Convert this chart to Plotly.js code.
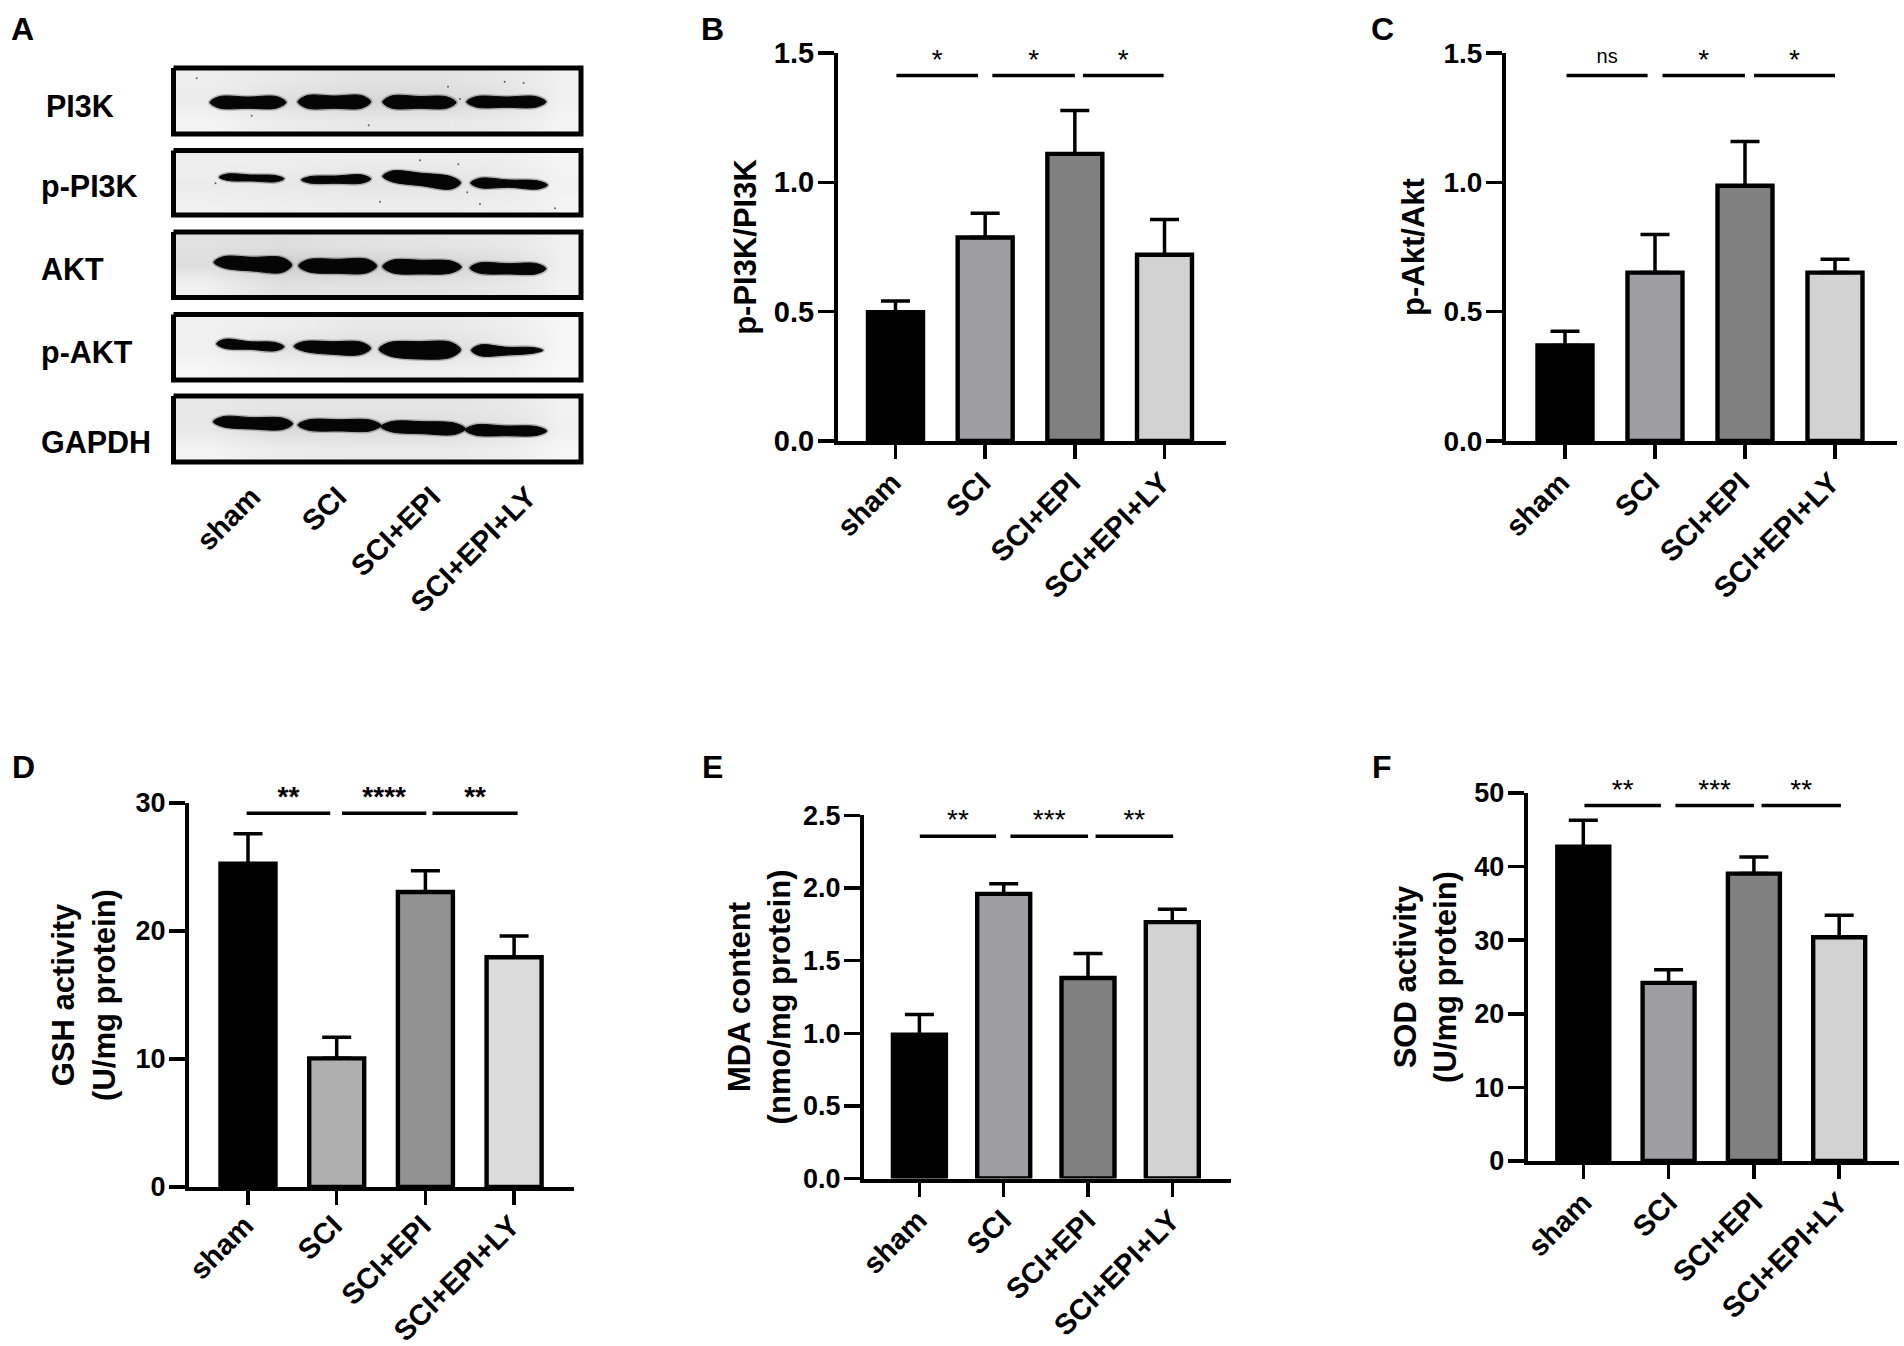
<!DOCTYPE html>
<html>
<head>
<meta charset="utf-8">
<script src="https://cdn.plot.ly/plotly-3.0.1.min.js"></script>
<style>body{margin:0;background:#fff}</style>
</head>
<body>
<div id="fig" style="width:1904px;height:1346px"></div>
<script>
var groups = ["sham", "SCI", "SCI+EPI", "SCI+EPI+LY"];
var groupIdx = [0, 1, 2, 3];

// bar heights and top of the error bars
var bMeans = [0.498, 0.787, 1.11, 0.72];
var bTops = [0.541, 0.88, 1.278, 0.856];
var cMeans = [0.369, 0.651, 0.987, 0.651];
var cTops = [0.424, 0.798, 1.158, 0.703];
var dMeans = [25.25, 10.05, 23.05, 17.95];
var dTops = [27.6, 11.7, 24.7, 19.6];
var eMeans = [0.99, 1.96, 1.38, 1.765];
var eTops = [1.13, 2.03, 1.55, 1.853];
var fMeans = [42.7, 24.2, 39.05, 30.4];
var fTops = [46.3, 26.0, 41.3, 33.4];

var greysDark = ["#000000", "#9e9ea2", "#808080", "#d2d2d2"];
var greysLight = ["#000000", "#aeaeae", "#929292", "#dcdcdc"];

// significance brackets: [start, end] in group units
var bSig = [[0.01, 0.92], [1.08, 2.0], [2.09, 2.99]];
var cSig = [[0.017, 0.918], [1.083, 2.0], [2.10, 3.0]];
var dSig = [[-0.015, 0.927], [1.06, 2.01], [2.08, 3.04]];
var eSig = [[0.005, 0.91], [1.08, 2.0], [2.09, 3.01]];
var fSig = [[0.013, 0.91], [1.08, 2.0], [2.09, 3.02]];

// blot panel
var rowNames = ["PI3K", "p-PI3K", "AKT", "p-AKT", "GAPDH"];
var rowNameX = [44, 39, 39, 39, 39];
var rowNameY = [105.7, 187, 269.5, 353, 442];
var frameTop = [68, 150.5, 232, 314.5, 396];
var frameBottom = [134, 215, 297.5, 380, 462];
var laneTicks = [252, 338, 432, 528];
var backX = [175, 240, 320, 400, 480, 540, 580];
var backZ = [
  [[238, 232, 226, 226, 232, 240], [235, 222, 214, 214, 224, 240], [244, 236, 232, 232, 236, 244]],
  [[238, 238, 235, 235, 238, 244], [236, 232, 228, 228, 232, 242], [240, 238, 236, 236, 238, 244]],
  [[225, 222, 226, 228, 232, 240], [222, 205, 208, 210, 220, 240], [240, 225, 226, 228, 232, 242]],
  [[240, 238, 232, 232, 238, 246], [240, 226, 222, 222, 232, 246], [246, 240, 238, 238, 240, 248]],
  [[232, 228, 228, 228, 232, 242], [232, 218, 218, 218, 226, 240], [244, 236, 234, 234, 238, 246]]
];
// per row, per lane: left/right end, and top/bottom edge near left, middle, right
var bandLeft = [
  [210, 298, 382.7, 466.6], [219.3, 301.4, 382.7, 470.7], [214, 298.7, 382.7, 470],
  [216.6, 294, 379, 471.4], [213.3, 298, 381, 465.3]
];
var bandRight = [
  [286, 370.7, 456, 546], [284, 370.7, 460.7, 547.5], [291.7, 376.7, 461.3, 546],
  [284, 370.7, 460.7, 543], [292.7, 381, 465.3, 546.8]
];
var bandTop = [
  [[96.7, 97, 96.7], [95.7, 96, 95.7], [96, 96.5, 97], [96.7, 97, 96.7]],
  [[174, 175, 175.7], [176.7, 176, 175], [171, 173.3, 176.7], [178.3, 180, 181]],
  [[256.7, 257.3, 257.7], [259.7, 259.3, 259.3], [260.3, 260.3, 261.3], [263, 263.7, 263.7]],
  [[339.3, 341.7, 342.7], [341.7, 341.7, 342.3], [342.7, 341.7, 342.3], [345, 347.3, 347.7]],
  [[416.7, 417.7, 418.3], [420, 419.7, 420.3], [421.7, 421.7, 423.3], [425, 426, 426.7]]
];
var bandBottom = [
  [[108, 108.3, 108], [108, 108.3, 108], [108, 108.3, 108], [107, 107.3, 107]],
  [[180.3, 181, 181.7], [183, 183.3, 183], [181.7, 185.7, 189], [187.7, 187.3, 189]],
  [[267.7, 271, 272.3], [271.7, 273.3, 272.7], [272.7, 274, 272.7], [273, 274, 273.7]],
  [[348.3, 349.3, 350.7], [351, 354.3, 354.3], [355.7, 359, 357.3], [355.7, 355, 353]],
  [[426.7, 429, 429.3], [430, 431, 430.7], [431.7, 433.7, 434.3], [435, 435.7, 435.3]]
];
var speckX = [251.7, 448, 504.7, 523.7, 460, 196.7, 368.7, 420, 215.5, 467.3, 380, 480, 458.3, 555];
var speckY = [115.7, 86.7, 81.7, 83, 99, 78.3, 125.3, 160.3, 183.3, 192.3, 201.7, 204, 164.3, 208.3];

var FONT = "Liberation Sans, Arial, sans-serif";
var W = 1904, H = 1346;
function xDom(a, b) { return [a / W, b / W]; }
function yDom(top, bottom) { return [1 - bottom / H, 1 - top / H]; }

var panels = [
  { means: bMeans, tops: bTops, sig: bSig, colors: greysDark, labels: ["*", "*", "*"], sigY: 1.413, yMax: 1.5, dtick: 0.5, fmt: ".1f", starWeight: "normal",
    title: "p-PI3K/PI3K", axisX: 838, endX: 1226, top: 53, bottom: 441, c0: 895.5, sp: 89.67, barW: 55, tickSize: 29, titleOff: 9, xLift: -5, xShift: -3 },
  { means: cMeans, tops: cTops, sig: cSig, colors: greysDark, labels: ["ns", "*", "*"], sigY: 1.413, yMax: 1.5, dtick: 0.5, fmt: ".1f", starWeight: "normal",
    title: "p-Akt/Akt", axisX: 1506, endX: 1897, top: 53, bottom: 441, c0: 1565, sp: 90, barW: 55, tickSize: 28, titleOff: 11, xLift: -5, xShift: -4 },
  { means: dMeans, tops: dTops, sig: dSig, colors: greysLight, labels: ["**", "****", "**"], sigY: 29.2, yMax: 30, dtick: 10, fmt: "d", starWeight: "bold",
    title: "GSH activity<br>(U/mg protein)", axisX: 189, endX: 574, top: 803, bottom: 1187, c0: 248, sp: 88.7, barW: 55, tickSize: 27, titleOff: 12, xLift: -8, xShift: -3 },
  { means: eMeans, tops: eTops, sig: eSig, colors: greysDark, labels: ["**", "***", "**"], sigY: 2.356, yMax: 2.5, dtick: 0.5, fmt: ".1f", starWeight: "normal",
    title: "MDA content<br>(nmo/mg protein)", axisX: 864, endX: 1230.5, top: 815.4, bottom: 1178.5, c0: 919.4, sp: 84.3, barW: 53, tickSize: 27, titleOff: 4, xLift: -5, xShift: -1 },
  { means: fMeans, tops: fTops, sig: fSig, colors: greysDark, labels: ["**", "***", "**"], sigY: 48.3, yMax: 50, dtick: 10, fmt: "d", starWeight: "normal",
    title: "SOD activity<br>(U/mg protein)", axisX: 1527.6, endX: 1898.6, top: 793, bottom: 1161, c0: 1583.3, sp: 85.3, barW: 52, tickSize: 27, titleOff: 9, xLift: -5, xShift: 0 }
];

var data = [];
var layout = {
  width: W, height: H,
  margin: { l: 0, r: 0, t: 0, b: 0 },
  paper_bgcolor: "white", plot_bgcolor: "white",
  showlegend: false,
  font: { family: FONT, color: "black" },
  annotations: []
};

panels.forEach(function (p, i) {
  var n = i + 1;
  var xa = "x" + n, ya = "y" + n;
  var xKey = "xaxis" + n, yKey = "yaxis" + n;

  data.push({
    type: "bar", x: groupIdx, y: p.means, xaxis: xa, yaxis: ya,
    width: p.barW / p.sp,
    marker: { color: p.colors, line: { color: "black", width: 4.4 } },
    error_y: {
      type: "data", symmetric: false,
      array: p.tops.map(function (t, k) { return t - p.means[k]; }),
      arrayminus: [0, 0, 0, 0],
      color: "black", thickness: 3.5, width: 14.5
    },
    hoverinfo: "skip"
  });

  var lx = [], ly = [], tx = [];
  p.sig.forEach(function (s) {
    lx.push(s[0], s[1], null);
    ly.push(p.sigY, p.sigY, null);
    tx.push((s[0] + s[1]) / 2);
  });
  data.push({
    type: "scatter", mode: "lines", x: lx, y: ly, xaxis: xa, yaxis: ya,
    line: { color: "black", width: 3.5 }, hoverinfo: "skip", cliponaxis: false
  });
  // ns sits higher above its line than the stars do
  data.push({
    type: "scatter", mode: "text", x: tx, xaxis: xa, yaxis: ya,
    y: p.labels.map(function (l) { return l === "ns" ? p.sigY + 0.028 : p.sigY; }),
    text: p.labels, textposition: "top center", cliponaxis: false,
    textfont: {
      family: FONT, color: "black", weight: p.starWeight,
      size: p.labels.map(function (l) { return l === "ns" ? 20 : 28; })
    },
    hoverinfo: "skip"
  });

  layout[xKey] = {
    domain: xDom(p.axisX, p.endX), anchor: ya,
    range: [(p.axisX - p.c0) / p.sp, (p.endX - p.c0) / p.sp],
    tickmode: "array", tickvals: groupIdx, ticktext: groups, tickangle: -45,
    ticks: "outside", ticklen: 14, tickwidth: 3.5, tickcolor: "black",
    ticklabelstandoff: p.xLift, ticklabelshift: p.xShift,
    tickfont: { family: FONT, size: 29, weight: "bold", color: "black" },
    showline: true, linecolor: "black", linewidth: 4,
    showgrid: false, zeroline: false
  };
  layout[yKey] = {
    domain: yDom(p.top, p.bottom), anchor: xa,
    range: [0, p.yMax], dtick: p.dtick, tick0: 0, tickformat: p.fmt,
    ticks: "outside", ticklen: 16, tickwidth: 3.5, tickcolor: "black",
    ticklabelstandoff: -2,
    tickfont: { family: FONT, size: p.tickSize, weight: "bold", color: "black" },
    showline: true, linecolor: "black", linewidth: 4,
    showgrid: false, zeroline: false,
    title: { text: p.title, standoff: p.titleOff, font: { family: FONT, size: 31, weight: "bold", color: "black" } }
  };
});

// blot panel shares one axis pair, in the picture's own units
var blotX = "x6", blotY = "y6";
rowNames.forEach(function (name, r) {
  var t = frameTop[r] + 2, b = frameBottom[r] - 2, h = b - t;
  data.push({
    type: "heatmap", x: backX, y: [t, t + h * 0.35, t + h * 0.65, b], z: backZ[r],
    xaxis: blotX, yaxis: blotY, zmin: 0, zmax: 255, zsmooth: "best",
    colorscale: [[0, "#000000"], [1, "#ffffff"]], showscale: false, hoverinfo: "skip"
  });
  bandLeft[r].forEach(function (left, k) {
    var right = bandRight[r][k], len = right - left;
    var top = bandTop[r][k], bot = bandBottom[r][k];
    var x = [left, left + len * 0.12, left + len * 0.5, left + len * 0.88, right,
             left + len * 0.88, left + len * 0.5, left + len * 0.12, left];
    var y = [(top[0] + bot[0]) / 2, top[0], top[1], top[2], (top[2] + bot[2]) / 2,
             bot[2], bot[1], bot[0], (top[0] + bot[0]) / 2];
    data.push({
      type: "scatter", mode: "lines", x: x, y: y, xaxis: blotX, yaxis: blotY,
      line: { color: "rgba(0,0,0,0.22)", width: 4, shape: "spline" }, hoverinfo: "skip"
    });
    data.push({
      type: "scatter", mode: "lines", x: x, y: y, xaxis: blotX, yaxis: blotY, fill: "toself",
      fillcolor: "#050505", line: { color: "#050505", width: 1, shape: "spline" }, hoverinfo: "skip"
    });
  });
  data.push({
    type: "scatter", mode: "lines", xaxis: blotX, yaxis: blotY,
    x: [173.5, 581, 581, 173.5, 173.5],
    y: [frameTop[r], frameTop[r], frameBottom[r], frameBottom[r], frameTop[r]],
    line: { color: "black", width: 5 }, hoverinfo: "skip"
  });
  layout.annotations.push({
    xref: "paper", yref: "paper", x: rowNameX[r] / W, y: 1 - rowNameY[r] / H,
    xanchor: "left", yanchor: "middle", showarrow: false, text: name,
    font: { family: FONT, size: 30.5, weight: "bold", color: "black" }
  });
});
data.push({
  type: "scatter", mode: "markers", x: speckX, y: speckY, xaxis: blotX, yaxis: blotY,
  marker: { color: "#333333", size: 2, opacity: 0.75 }, hoverinfo: "skip"
});
layout.xaxis6 = {
  domain: xDom(171, 585), range: [171, 585], anchor: blotY,
  tickmode: "array", tickvals: laneTicks, ticktext: groups, tickangle: -45, ticks: "",
  ticklabelstandoff: -2,
  tickfont: { family: FONT, size: 29, weight: "bold", color: "black" },
  showline: false, showgrid: false, zeroline: false
};
layout.yaxis6 = {
  domain: yDom(60, 475), range: [475, 60], anchor: blotX,
  showticklabels: false, ticks: "", showline: false, showgrid: false, zeroline: false
};

// panel letters
var letters = ["A", "B", "C", "D", "E", "F"];
var letterX = [9, 699, 1369, 10, 700, 1370];
var letterY = [29, 29, 29, 767, 767, 767];
letters.forEach(function (s, i) {
  layout.annotations.push({
    xref: "paper", yref: "paper", x: letterX[i] / W, y: 1 - letterY[i] / H,
    xanchor: "left", yanchor: "middle", showarrow: false, text: s,
    font: { family: FONT, size: 32, weight: "bold", color: "black" }
  });
});

Plotly.newPlot("fig", data, layout, { displayModeBar: false, staticPlot: true });
</script>
</body>
</html>
